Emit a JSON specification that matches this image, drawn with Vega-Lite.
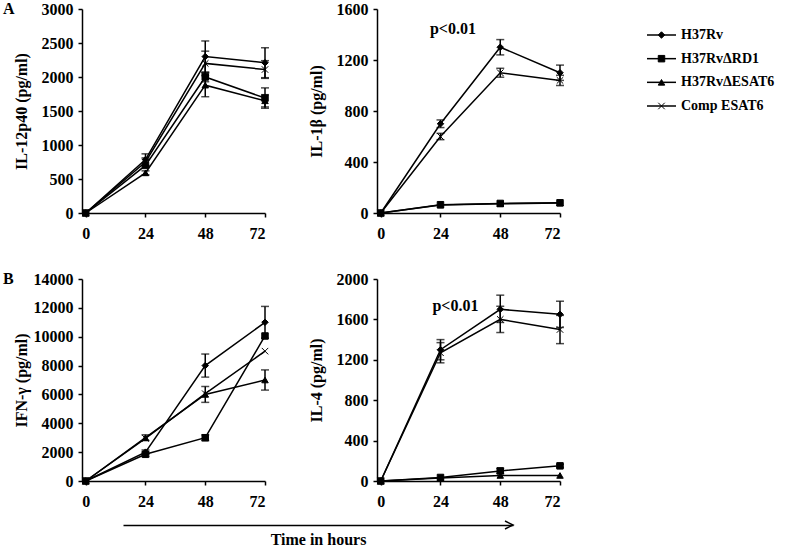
{
  "$schema": "https://vega.github.io/schema/vega-lite/v6.json",
  "background": "white",
  "padding": {"left": 3, "top": 1, "right": 5, "bottom": 2},
  "config": {
    "font": "Liberation Serif",
    "view": {"stroke": null},
    "axis": {
      "grid": false,
      "domainColor": "black", "domainWidth": 1.5,
      "tickColor": "black", "tickWidth": 1.5, "tickSize": 4,
      "labelFont": "Liberation Serif", "labelFontWeight": "bold", "labelFontSize": 16, "labelColor": "black",
      "titleFont": "Liberation Serif", "titleFontWeight": "bold", "titleFontSize": 16, "titleColor": "black",
      "labelPadding": 5, "labelOverlap": false
    },
    "title": {"font": "Liberation Serif", "fontWeight": "bold", "fontSize": 16, "color": "black"}
  },
  "datasets": {
    "pts": [
      {"panel": "A1", "strain": "H37Rv", "t": 0, "v": 0},
      {"panel": "A1", "strain": "H37Rv", "t": 24, "v": 785, "lo": 700, "hi": 870},
      {"panel": "A1", "strain": "H37Rv", "t": 48, "v": 2300, "lo": 2070, "hi": 2530},
      {"panel": "A1", "strain": "H37Rv", "t": 72, "v": 2210, "lo": 1990, "hi": 2430},
      {"panel": "A1", "strain": "H37RvΔRD1", "t": 0, "v": 0},
      {"panel": "A1", "strain": "H37RvΔRD1", "t": 24, "v": 700},
      {"panel": "A1", "strain": "H37RvΔRD1", "t": 48, "v": 2000, "lo": 1930, "hi": 2070},
      {"panel": "A1", "strain": "H37RvΔRD1", "t": 72, "v": 1690, "lo": 1540, "hi": 1840},
      {"panel": "A1", "strain": "H37RvΔESAT6", "t": 0, "v": 0},
      {"panel": "A1", "strain": "H37RvΔESAT6", "t": 24, "v": 590, "lo": 560, "hi": 620},
      {"panel": "A1", "strain": "H37RvΔESAT6", "t": 48, "v": 1880, "lo": 1710, "hi": 2050},
      {"panel": "A1", "strain": "H37RvΔESAT6", "t": 72, "v": 1650, "lo": 1560, "hi": 1740},
      {"panel": "A1", "strain": "Comp ESAT6", "t": 0, "v": 0},
      {"panel": "A1", "strain": "Comp ESAT6", "t": 24, "v": 750, "lo": 690, "hi": 810},
      {"panel": "A1", "strain": "Comp ESAT6", "t": 48, "v": 2200, "lo": 2020, "hi": 2380},
      {"panel": "A1", "strain": "Comp ESAT6", "t": 72, "v": 2110, "lo": 1980, "hi": 2240},

      {"panel": "A2", "strain": "H37Rv", "t": 0, "v": 0},
      {"panel": "A2", "strain": "H37Rv", "t": 24, "v": 700, "lo": 670, "hi": 730},
      {"panel": "A2", "strain": "H37Rv", "t": 48, "v": 1300, "lo": 1240, "hi": 1360},
      {"panel": "A2", "strain": "H37Rv", "t": 72, "v": 1100, "lo": 1040, "hi": 1160},
      {"panel": "A2", "strain": "H37RvΔRD1", "t": 0, "v": 0},
      {"panel": "A2", "strain": "H37RvΔRD1", "t": 24, "v": 65},
      {"panel": "A2", "strain": "H37RvΔRD1", "t": 48, "v": 75},
      {"panel": "A2", "strain": "H37RvΔRD1", "t": 72, "v": 80},
      {"panel": "A2", "strain": "H37RvΔESAT6", "t": 0, "v": 0},
      {"panel": "A2", "strain": "H37RvΔESAT6", "t": 24, "v": 62},
      {"panel": "A2", "strain": "H37RvΔESAT6", "t": 48, "v": 72},
      {"panel": "A2", "strain": "H37RvΔESAT6", "t": 72, "v": 78},
      {"panel": "A2", "strain": "Comp ESAT6", "t": 0, "v": 0},
      {"panel": "A2", "strain": "Comp ESAT6", "t": 24, "v": 600, "lo": 575, "hi": 625},
      {"panel": "A2", "strain": "Comp ESAT6", "t": 48, "v": 1100, "lo": 1065, "hi": 1135},
      {"panel": "A2", "strain": "Comp ESAT6", "t": 72, "v": 1040, "lo": 1000, "hi": 1080},

      {"panel": "B1", "strain": "H37Rv", "t": 0, "v": 0},
      {"panel": "B1", "strain": "H37Rv", "t": 24, "v": 2000, "lo": 1850, "hi": 2150},
      {"panel": "B1", "strain": "H37Rv", "t": 48, "v": 8000, "lo": 7200, "hi": 8800},
      {"panel": "B1", "strain": "H37Rv", "t": 72, "v": 11000, "lo": 9900, "hi": 12100},
      {"panel": "B1", "strain": "H37RvΔRD1", "t": 0, "v": 0},
      {"panel": "B1", "strain": "H37RvΔRD1", "t": 24, "v": 1850, "lo": 1700, "hi": 2000},
      {"panel": "B1", "strain": "H37RvΔRD1", "t": 48, "v": 3000, "lo": 2800, "hi": 3200},
      {"panel": "B1", "strain": "H37RvΔRD1", "t": 72, "v": 10050},
      {"panel": "B1", "strain": "H37RvΔESAT6", "t": 0, "v": 0},
      {"panel": "B1", "strain": "H37RvΔESAT6", "t": 24, "v": 3000, "lo": 2800, "hi": 3200},
      {"panel": "B1", "strain": "H37RvΔESAT6", "t": 48, "v": 6000, "lo": 5450, "hi": 6550},
      {"panel": "B1", "strain": "H37RvΔESAT6", "t": 72, "v": 7000, "lo": 6300, "hi": 7700},
      {"panel": "B1", "strain": "Comp ESAT6", "t": 0, "v": 0},
      {"panel": "B1", "strain": "Comp ESAT6", "t": 24, "v": 2950},
      {"panel": "B1", "strain": "Comp ESAT6", "t": 48, "v": 6050},
      {"panel": "B1", "strain": "Comp ESAT6", "t": 72, "v": 9000},

      {"panel": "B2", "strain": "H37Rv", "t": 0, "v": 0},
      {"panel": "B2", "strain": "H37Rv", "t": 24, "v": 1300, "lo": 1200, "hi": 1400},
      {"panel": "B2", "strain": "H37Rv", "t": 48, "v": 1700, "lo": 1570, "hi": 1840},
      {"panel": "B2", "strain": "H37Rv", "t": 72, "v": 1650, "lo": 1520, "hi": 1780},
      {"panel": "B2", "strain": "H37RvΔRD1", "t": 0, "v": 0},
      {"panel": "B2", "strain": "H37RvΔRD1", "t": 24, "v": 35},
      {"panel": "B2", "strain": "H37RvΔRD1", "t": 48, "v": 100, "lo": 75, "hi": 125},
      {"panel": "B2", "strain": "H37RvΔRD1", "t": 72, "v": 150, "lo": 135, "hi": 165},
      {"panel": "B2", "strain": "H37RvΔESAT6", "t": 0, "v": 0},
      {"panel": "B2", "strain": "H37RvΔESAT6", "t": 24, "v": 30},
      {"panel": "B2", "strain": "H37RvΔESAT6", "t": 48, "v": 55},
      {"panel": "B2", "strain": "H37RvΔESAT6", "t": 72, "v": 55},
      {"panel": "B2", "strain": "Comp ESAT6", "t": 0, "v": 0},
      {"panel": "B2", "strain": "Comp ESAT6", "t": 24, "v": 1270, "lo": 1170, "hi": 1370},
      {"panel": "B2", "strain": "Comp ESAT6", "t": 48, "v": 1600, "lo": 1470, "hi": 1730},
      {"panel": "B2", "strain": "Comp ESAT6", "t": 72, "v": 1500, "lo": 1360, "hi": 1640}
    ],
    "ann": [
      {"panel": "A2", "label": "p<0.01", "t": 29, "v": 1440},
      {"panel": "B2", "label": "p<0.01", "t": 30, "v": 1735}
    ],
    "strains": [
      {"strain": "H37Rv"},
      {"strain": "H37RvΔRD1"},
      {"strain": "H37RvΔESAT6"},
      {"strain": "Comp ESAT6"}
    ],
    "arrow": [{"end": 1}]
  },
  "vconcat": [
    {
      "spacing": 30,
      "vconcat": [
        {
          "bounds": "flush",
          "spacing": 112,
          "hconcat": [
            {
              "width": 183, "height": 204,
              "title": {"text": "A", "anchor": "start", "frame": "group", "dx": -79, "offset": -16},
              "data": {"name": "pts"},
              "transform": [{"filter": "datum.panel === 'A1'"}],
              "encoding": {"x": {"field": "t", "type": "quantitative", "title": null, "scale": {"domain": [-1.5, 72], "nice": false}, "axis": {"values": [0, 24, 48, 72], "labelPadding": 8}}},
              "layer": [
                {"mark": {"type": "line", "color": "black", "strokeWidth": 1.5},
                 "encoding": {"y": {"field": "v", "type": "quantitative", "title": "IL-12p40 (pg/ml)", "scale": {"domain": [0, 3000], "nice": false}, "axis": {"values": [0, 500, 1000, 1500, 2000, 2500, 3000], "format": "d", "titlePadding": 12}}, "detail": {"field": "strain"}, "order": {"field": "t"}}},
                {"transform": [{"filter": "isValid(datum.lo)"}], "mark": {"type": "rule", "color": "black", "strokeWidth": 1.5},
                 "encoding": {"y": {"field": "lo", "type": "quantitative", "title": "IL-12p40 (pg/ml)", "scale": {"domain": [0, 3000], "nice": false}, "axis": {"values": [0, 500, 1000, 1500, 2000, 2500, 3000], "format": "d", "titlePadding": 12}}, "y2": {"field": "hi"}}},
                {"transform": [{"filter": "isValid(datum.lo)"}], "mark": {"type": "tick", "orient": "horizontal", "color": "black", "size": 8, "thickness": 1.5},
                 "encoding": {"y": {"field": "lo", "type": "quantitative", "title": "IL-12p40 (pg/ml)", "scale": {"domain": [0, 3000], "nice": false}, "axis": {"values": [0, 500, 1000, 1500, 2000, 2500, 3000], "format": "d", "titlePadding": 12}}}},
                {"transform": [{"filter": "isValid(datum.lo)"}], "mark": {"type": "tick", "orient": "horizontal", "color": "black", "size": 8, "thickness": 1.5},
                 "encoding": {"y": {"field": "hi", "type": "quantitative", "title": "IL-12p40 (pg/ml)", "scale": {"domain": [0, 3000], "nice": false}, "axis": {"values": [0, 500, 1000, 1500, 2000, 2500, 3000], "format": "d", "titlePadding": 12}}}},
                {"mark": {"type": "point", "filled": false, "fill": "black", "color": "black", "strokeWidth": 1, "size": 42, "opacity": 1},
                 "encoding": {"y": {"field": "v", "type": "quantitative", "title": "IL-12p40 (pg/ml)", "scale": {"domain": [0, 3000], "nice": false}, "axis": {"values": [0, 500, 1000, 1500, 2000, 2500, 3000], "format": "d", "titlePadding": 12}},
                   "shape": {"field": "strain", "type": "nominal", "legend": null,
                     "scale": {"domain": ["H37Rv", "H37RvΔRD1", "H37RvΔESAT6", "Comp ESAT6"], "range": ["diamond", "square", "triangle-up", "M-1,-1L1,1M-1,1L1,-1"]}}}}
              ]
            },
            {
              "width": 183, "height": 204,
              "data": {"name": "pts"},
              "transform": [{"filter": "datum.panel === 'A2'"}],
              "encoding": {"x": {"field": "t", "type": "quantitative", "title": null, "scale": {"domain": [-1.5, 72], "nice": false}, "axis": {"values": [0, 24, 48, 72], "labelPadding": 8}}},
              "layer": [
                {"mark": {"type": "line", "color": "black", "strokeWidth": 1.5},
                 "encoding": {"y": {"field": "v", "type": "quantitative", "title": "IL-1β (pg/ml)", "scale": {"domain": [0, 1600], "nice": false}, "axis": {"values": [0, 400, 800, 1200, 1600], "format": "d", "titlePadding": 12}}, "detail": {"field": "strain"}, "order": {"field": "t"}}},
                {"transform": [{"filter": "isValid(datum.lo)"}], "mark": {"type": "rule", "color": "black", "strokeWidth": 1.5},
                 "encoding": {"y": {"field": "lo", "type": "quantitative", "title": "IL-1β (pg/ml)", "scale": {"domain": [0, 1600], "nice": false}, "axis": {"values": [0, 400, 800, 1200, 1600], "format": "d", "titlePadding": 12}}, "y2": {"field": "hi"}}},
                {"transform": [{"filter": "isValid(datum.lo)"}], "mark": {"type": "tick", "orient": "horizontal", "color": "black", "size": 8, "thickness": 1.5},
                 "encoding": {"y": {"field": "lo", "type": "quantitative", "title": "IL-1β (pg/ml)", "scale": {"domain": [0, 1600], "nice": false}, "axis": {"values": [0, 400, 800, 1200, 1600], "format": "d", "titlePadding": 12}}}},
                {"transform": [{"filter": "isValid(datum.lo)"}], "mark": {"type": "tick", "orient": "horizontal", "color": "black", "size": 8, "thickness": 1.5},
                 "encoding": {"y": {"field": "hi", "type": "quantitative", "title": "IL-1β (pg/ml)", "scale": {"domain": [0, 1600], "nice": false}, "axis": {"values": [0, 400, 800, 1200, 1600], "format": "d", "titlePadding": 12}}}},
                {"mark": {"type": "point", "filled": false, "fill": "black", "color": "black", "strokeWidth": 1, "size": 42, "opacity": 1},
                 "encoding": {"y": {"field": "v", "type": "quantitative", "title": "IL-1β (pg/ml)", "scale": {"domain": [0, 1600], "nice": false}, "axis": {"values": [0, 400, 800, 1200, 1600], "format": "d", "titlePadding": 12}},
                   "shape": {"field": "strain", "type": "nominal", "legend": null,
                     "scale": {"domain": ["H37Rv", "H37RvΔRD1", "H37RvΔESAT6", "Comp ESAT6"], "range": ["diamond", "square", "triangle-up", "M-1,-1L1,1M-1,1L1,-1"]}}}},
                {"data": {"name": "ann"}, "transform": [{"filter": "datum.panel === 'A2'"}],
                 "mark": {"type": "text", "font": "Liberation Serif", "fontWeight": "bold", "fontSize": 16, "color": "black", "align": "center", "baseline": "middle"},
                 "encoding": {"y": {"field": "v", "type": "quantitative", "title": "IL-1β (pg/ml)", "scale": {"domain": [0, 1600], "nice": false}, "axis": {"values": [0, 400, 800, 1200, 1600], "format": "d", "titlePadding": 12}}, "text": {"field": "label"}}}
              ]
            },
            {
              "width": 100, "height": 204,
              "data": {"name": "strains"},
              "encoding": {"y": {"field": "strain", "type": "nominal", "sort": null, "scale": {"type": "point", "padding": 0, "domain": ["H37Rv", "H37RvΔRD1", "H37RvΔESAT6", "Comp ESAT6"], "range": [26, 97]}, "axis": null}},
              "layer": [
                {"mark": {"type": "rule", "color": "black", "strokeWidth": 1.5},
                 "encoding": {"x": {"datum": 0, "type": "quantitative", "scale": {"domain": [0, 1], "range": [-25, 4]}, "axis": null}, "x2": {"datum": 1}}},
                {"mark": {"type": "point", "filled": false, "fill": "black", "color": "black", "strokeWidth": 1, "size": 42, "opacity": 1},
                 "encoding": {"x": {"datum": 0.5, "type": "quantitative", "scale": {"domain": [0, 1], "range": [-25, 4]}, "axis": null},
                   "shape": {"field": "strain", "type": "nominal", "legend": null,
                     "scale": {"domain": ["H37Rv", "H37RvΔRD1", "H37RvΔESAT6", "Comp ESAT6"], "range": ["diamond", "square", "triangle-up", "M-1,-1L1,1M-1,1L1,-1"]}}}},
                {"mark": {"type": "text", "font": "Liberation Serif", "fontWeight": "bold", "fontSize": 14, "color": "black", "align": "left", "baseline": "middle", "dx": 5},
                 "encoding": {"x": {"datum": 1, "type": "quantitative", "scale": {"domain": [0, 1], "range": [-25, 4]}, "axis": null}, "text": {"field": "strain"}}}
              ]
            }
          ]
        },
        {
          "bounds": "flush",
          "spacing": 112,
          "hconcat": [
            {
              "width": 183, "height": 202,
              "title": {"text": "B", "anchor": "start", "frame": "group", "dx": -79, "offset": -16},
              "data": {"name": "pts"},
              "transform": [{"filter": "datum.panel === 'B1'"}],
              "encoding": {"x": {"field": "t", "type": "quantitative", "title": null, "scale": {"domain": [-1.5, 72], "nice": false}, "axis": {"values": [0, 24, 48, 72], "labelPadding": 8}}},
              "layer": [
                {"mark": {"type": "line", "color": "black", "strokeWidth": 1.5},
                 "encoding": {"y": {"field": "v", "type": "quantitative", "title": "IFN-γ (pg/ml)", "scale": {"domain": [0, 14000], "nice": false}, "axis": {"values": [0, 2000, 4000, 6000, 8000, 10000, 12000, 14000], "format": "d", "titlePadding": 4}}, "detail": {"field": "strain"}, "order": {"field": "t"}}},
                {"transform": [{"filter": "isValid(datum.lo)"}], "mark": {"type": "rule", "color": "black", "strokeWidth": 1.5},
                 "encoding": {"y": {"field": "lo", "type": "quantitative", "title": "IFN-γ (pg/ml)", "scale": {"domain": [0, 14000], "nice": false}, "axis": {"values": [0, 2000, 4000, 6000, 8000, 10000, 12000, 14000], "format": "d", "titlePadding": 4}}, "y2": {"field": "hi"}}},
                {"transform": [{"filter": "isValid(datum.lo)"}], "mark": {"type": "tick", "orient": "horizontal", "color": "black", "size": 8, "thickness": 1.5},
                 "encoding": {"y": {"field": "lo", "type": "quantitative", "title": "IFN-γ (pg/ml)", "scale": {"domain": [0, 14000], "nice": false}, "axis": {"values": [0, 2000, 4000, 6000, 8000, 10000, 12000, 14000], "format": "d", "titlePadding": 4}}}},
                {"transform": [{"filter": "isValid(datum.lo)"}], "mark": {"type": "tick", "orient": "horizontal", "color": "black", "size": 8, "thickness": 1.5},
                 "encoding": {"y": {"field": "hi", "type": "quantitative", "title": "IFN-γ (pg/ml)", "scale": {"domain": [0, 14000], "nice": false}, "axis": {"values": [0, 2000, 4000, 6000, 8000, 10000, 12000, 14000], "format": "d", "titlePadding": 4}}}},
                {"mark": {"type": "point", "filled": false, "fill": "black", "color": "black", "strokeWidth": 1, "size": 42, "opacity": 1},
                 "encoding": {"y": {"field": "v", "type": "quantitative", "title": "IFN-γ (pg/ml)", "scale": {"domain": [0, 14000], "nice": false}, "axis": {"values": [0, 2000, 4000, 6000, 8000, 10000, 12000, 14000], "format": "d", "titlePadding": 4}},
                   "shape": {"field": "strain", "type": "nominal", "legend": null,
                     "scale": {"domain": ["H37Rv", "H37RvΔRD1", "H37RvΔESAT6", "Comp ESAT6"], "range": ["diamond", "square", "triangle-up", "M-1,-1L1,1M-1,1L1,-1"]}}}}
              ]
            },
            {
              "width": 183, "height": 202,
              "data": {"name": "pts"},
              "transform": [{"filter": "datum.panel === 'B2'"}],
              "encoding": {"x": {"field": "t", "type": "quantitative", "title": null, "scale": {"domain": [-1.5, 72], "nice": false}, "axis": {"values": [0, 24, 48, 72], "labelPadding": 8}}},
              "layer": [
                {"mark": {"type": "line", "color": "black", "strokeWidth": 1.5},
                 "encoding": {"y": {"field": "v", "type": "quantitative", "title": "IL-4 (pg/ml)", "scale": {"domain": [0, 2000], "nice": false}, "axis": {"values": [0, 400, 800, 1200, 1600, 2000], "format": "d", "titlePadding": 12}}, "detail": {"field": "strain"}, "order": {"field": "t"}}},
                {"transform": [{"filter": "isValid(datum.lo)"}], "mark": {"type": "rule", "color": "black", "strokeWidth": 1.5},
                 "encoding": {"y": {"field": "lo", "type": "quantitative", "title": "IL-4 (pg/ml)", "scale": {"domain": [0, 2000], "nice": false}, "axis": {"values": [0, 400, 800, 1200, 1600, 2000], "format": "d", "titlePadding": 12}}, "y2": {"field": "hi"}}},
                {"transform": [{"filter": "isValid(datum.lo)"}], "mark": {"type": "tick", "orient": "horizontal", "color": "black", "size": 8, "thickness": 1.5},
                 "encoding": {"y": {"field": "lo", "type": "quantitative", "title": "IL-4 (pg/ml)", "scale": {"domain": [0, 2000], "nice": false}, "axis": {"values": [0, 400, 800, 1200, 1600, 2000], "format": "d", "titlePadding": 12}}}},
                {"transform": [{"filter": "isValid(datum.lo)"}], "mark": {"type": "tick", "orient": "horizontal", "color": "black", "size": 8, "thickness": 1.5},
                 "encoding": {"y": {"field": "hi", "type": "quantitative", "title": "IL-4 (pg/ml)", "scale": {"domain": [0, 2000], "nice": false}, "axis": {"values": [0, 400, 800, 1200, 1600, 2000], "format": "d", "titlePadding": 12}}}},
                {"mark": {"type": "point", "filled": false, "fill": "black", "color": "black", "strokeWidth": 1, "size": 42, "opacity": 1},
                 "encoding": {"y": {"field": "v", "type": "quantitative", "title": "IL-4 (pg/ml)", "scale": {"domain": [0, 2000], "nice": false}, "axis": {"values": [0, 400, 800, 1200, 1600, 2000], "format": "d", "titlePadding": 12}},
                   "shape": {"field": "strain", "type": "nominal", "legend": null,
                     "scale": {"domain": ["H37Rv", "H37RvΔRD1", "H37RvΔESAT6", "Comp ESAT6"], "range": ["diamond", "square", "triangle-up", "M-1,-1L1,1M-1,1L1,-1"]}}}},
                {"data": {"name": "ann"}, "transform": [{"filter": "datum.panel === 'B2'"}],
                 "mark": {"type": "text", "font": "Liberation Serif", "fontWeight": "bold", "fontSize": 16, "color": "black", "align": "center", "baseline": "middle"},
                 "encoding": {"y": {"field": "v", "type": "quantitative", "title": "IL-4 (pg/ml)", "scale": {"domain": [0, 2000], "nice": false}, "axis": {"values": [0, 400, 800, 1200, 1600, 2000], "format": "d", "titlePadding": 12}}, "text": {"field": "label"}}}
              ]
            }
          ]
        }
      ]
    },
    {
      "width": 476, "height": 4,
      "data": {"name": "arrow"},
      "mark": {"type": "point", "shape": "M-2,-1L0,0L-2,1", "filled": false, "color": "black", "strokeWidth": 1.5, "size": 64, "opacity": 1},
      "encoding": {
        "x": {"field": "end", "type": "quantitative", "title": "Time in hours", "scale": {"domain": [0, 1], "range": [41, 431], "nice": false}, "axis": {"ticks": false, "labels": false, "domainWidth": 1.5, "titlePadding": 6}},
        "y": {"datum": 0, "type": "quantitative", "scale": {"domain": [0, 1]}, "axis": null}
      }
    }
  ],
  "spacing": 9
}
